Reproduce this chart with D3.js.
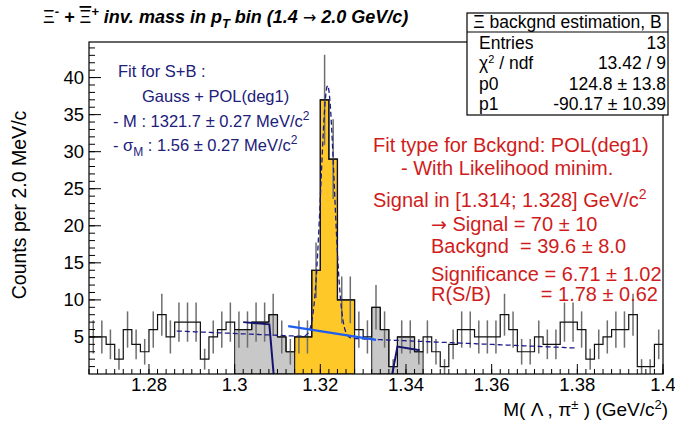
<!DOCTYPE html>
<html><head><meta charset="utf-8">
<script src="https://cdn.jsdelivr.net/npm/d3@7"></script>
<style>
html,body{margin:0;padding:0;background:#fff;}
svg{display:block;font-family:"Liberation Sans",Arial,Helvetica,sans-serif;}
</style></head>
<body><svg id="c" width="675" height="428"></svg>
<script>
// ---- data ----
const histRange = [1.266, 1.400];
const binWidth = 0.002;
const counts = [5,5,4,2,6,4,3,6,8,5,7,7,7,2,5,6,7,6,6,7,7,8,5,3,5,5,14,37,29,10,10,
                6,5,9,6,1,5,5,3,
                5,3,1,4,6,6,5,5,5,8,6,3,3,5,4,4,7,7,6,2,4,5,6,6,8,1,1,4];
const sidebandLeft = [1.300, 1.314];
const sidebandRight = [1.332, 1.344];
const signalRange = [1.314, 1.328];
const fitParams = {mean: 1.3217, sigma: 0.00156, amp: 34.0, bkgAt: [[1.2865, 5.8], [1.380, 3.5]]};
const fitRange = [1.2865, 1.380];
const bkgP = [124.8, -90.17];
const bkgLineRange = [1.3125, 1.3330];
const navyLeft = [[1.3020, 7.0], [1.3081, 6.7], [1.3091, 0]];
const navyRight = [[1.3368, 0], [1.3380, 3.7], [1.3432, 3.2]];
const xTicks = [1.28, 1.30, 1.32, 1.34, 1.36, 1.38, 1.40];
const xTickLabels = ["1.28", "1.3", "1.32", "1.34", "1.36", "1.38", "1.4"];
const yTicks = [5, 10, 15, 20, 25, 30, 35, 40];

// ---- layout ----
const svg = d3.select("#c");
const L = 89, R = 663, T = 42, B = 374;
const x = d3.scaleLinear().domain(histRange).range([L, R]);
const y = d3.scaleLinear().domain([0, 44.8]).range([B, T]);

const bins = counts.map((c, i) => {
  const lo = +(histRange[0] + i * binWidth).toFixed(4);
  return {lo, hi: +(lo + binWidth).toFixed(4), c};
});

svg.append("clipPath").attr("id", "clp").append("rect")
  .attr("x", L).attr("y", T).attr("width", R - L).attr("height", B - T);
const g = svg.append("g").attr("clip-path", "url(#clp)");

function stepArea(sel) {
  let d = "";
  sel.forEach((b, i) => {
    if (i === 0) d += `M${x(b.lo)},${y(0)}L${x(b.lo)},${y(b.c)}`;
    else d += `L${x(b.lo)},${y(b.c)}`;
    d += `L${x(b.hi)},${y(b.c)}`;
  });
  const last = sel[sel.length - 1];
  d += `L${x(last.hi)},${y(0)}Z`;
  return d;
}
const inR = (b, r) => b.lo >= r[0] - 1e-6 && b.hi <= r[1] + 1e-6;

[sidebandLeft, sidebandRight].forEach(r => {
  g.append("path").attr("d", stepArea(bins.filter(b => inR(b, r))))
    .attr("fill", "#c8c8c8").attr("stroke", "#222").attr("stroke-width", 1);
});
g.append("path").attr("d", stepArea(bins.filter(b => inR(b, signalRange))))
  .attr("fill", "#ffc829").attr("stroke", "#222").attr("stroke-width", 1.2);

g.selectAll("line.err").data(bins).enter().append("line")
  .attr("x1", b => x((b.lo + b.hi) / 2)).attr("x2", b => x((b.lo + b.hi) / 2))
  .attr("y1", b => y(b.c + Math.sqrt(b.c))).attr("y2", b => y(Math.max(0, b.c - Math.sqrt(b.c))))
  .attr("stroke", "#6e6e6e").attr("stroke-width", 1.5);

let dOut = "";
bins.forEach((b, i) => {
  dOut += (i === 0 ? "M" : "L") + `${x(b.lo)},${y(b.c)}L${x(b.hi)},${y(b.c)}`;
});
g.append("path").attr("d", dOut).attr("fill", "none").attr("stroke", "#111").attr("stroke-width", 1.2);

const [p1x, p1y] = fitParams.bkgAt[0], [p2x, p2y] = fitParams.bkgAt[1];
const slope = (p2y - p1y) / (p2x - p1x);
const fitPts = d3.range(fitRange[0], fitRange[1] + 1e-9, 0.0002).map(v => [v,
  p1y + slope * (v - p1x) + fitParams.amp * Math.exp(-0.5 * ((v - fitParams.mean) / fitParams.sigma) ** 2)]);
g.append("path").attr("d", d3.line().x(d => x(d[0])).y(d => y(d[1]))(fitPts))
  .attr("fill", "none").attr("stroke", "#1c1c88").attr("stroke-width", 1.3).attr("stroke-dasharray", "5,3");

g.append("path").attr("d", d3.line().x(d => x(d)).y(d => y(bkgP[0] + bkgP[1] * d))(bkgLineRange))
  .attr("fill", "none").attr("stroke", "#1f5cf0").attr("stroke-width", 2.2);

[navyLeft, navyRight].forEach(pts => {
  g.append("path").attr("d", d3.line().x(d => x(d[0])).y(d => y(d[1]))(pts))
    .attr("fill", "none").attr("stroke", "#14146e").attr("stroke-width", 2);
});

svg.append("rect").attr("x", L).attr("y", T).attr("width", R - L).attr("height", B - T)
  .attr("fill", "none").attr("stroke", "#000").attr("stroke-width", 1.2);

const xMinor = d3.range(1.266, 1.4001, 0.002);
svg.append("g").selectAll("line").data(xMinor).enter().append("line")
  .attr("x1", d => x(d)).attr("x2", d => x(d)).attr("y1", B).attr("y2", B - 5)
  .attr("stroke", "#000");
svg.append("g").selectAll("line").data(xTicks).enter().append("line")
  .attr("x1", d => x(d)).attr("x2", d => x(d)).attr("y1", B).attr("y2", B - 10)
  .attr("stroke", "#000");
svg.append("g").selectAll("text").data(xTicks).enter().append("text")
  .attr("x", d => x(d)).attr("y", 391).attr("text-anchor", "middle")
  .attr("font-size", 18.5).text((d, i) => xTickLabels[i]);

const yMinor = d3.range(1, 45, 1);
svg.append("g").selectAll("line").data(yMinor).enter().append("line")
  .attr("x1", L).attr("x2", L + 6).attr("y1", d => y(d)).attr("y2", d => y(d)).attr("stroke", "#000");
svg.append("g").selectAll("line").data(yTicks).enter().append("line")
  .attr("x1", L).attr("x2", L + 12).attr("y1", d => y(d)).attr("y2", d => y(d)).attr("stroke", "#000");
svg.append("g").selectAll("text").data(yTicks).enter().append("text")
  .attr("x", L - 5).attr("y", d => y(d) + 6.5).attr("text-anchor", "end")
  .attr("font-size", 18.5).text(d => d);

svg.append("text").attr("transform", "translate(26,205) rotate(-90)").attr("text-anchor", "middle")
  .attr("font-size", 19.5).text("Counts per 2.0 MeV/c");
const xt = svg.append("text").attr("x", 668).attr("y", 416).attr("text-anchor", "end").attr("font-size", 19);
xt.append("tspan").text("M( Λ , π");
xt.append("tspan").attr("dy", -7).attr("font-size", 13).text("±");
xt.append("tspan").attr("dy", 7).text(" ) (GeV/c");
xt.append("tspan").attr("dy", -7).attr("font-size", 13).text("2");
xt.append("tspan").attr("dy", 7).text(")");

const tt = svg.append("text").attr("x", 43).attr("y", 23).attr("font-size", 18)
  .attr("font-weight", "bold").attr("font-style", "italic");
tt.append("tspan").attr("font-weight", "normal").attr("font-style", "normal").text("Ξ");
tt.append("tspan").attr("dy", -7).attr("font-size", 13).text("-");
tt.append("tspan").attr("dy", 7).text(" + ");
tt.append("tspan").attr("font-weight", "normal").attr("font-style", "normal").attr("text-decoration", "overline").text("Ξ");
tt.append("tspan").attr("dy", -7).attr("font-size", 13).text("+");
tt.append("tspan").attr("dy", 7).text(" inv. mass in p");
tt.append("tspan").attr("dy", 5).attr("font-size", 13).text("T");
tt.append("tspan").attr("dy", -5).text(" bin (1.4 ");
tt.append("tspan").attr("font-weight", "normal").attr("font-style", "normal").attr("font-family", "DejaVu Sans").attr("font-size", 16).text("→");
tt.append("tspan").text(" 2.0 GeV/c)");

const sb = svg.append("g");
sb.append("rect").attr("x", 467).attr("y", 13).attr("width", 201).attr("height", 102)
  .attr("fill", "#fff").attr("stroke", "#000").attr("stroke-width", 1.2);
sb.append("line").attr("x1", 467).attr("x2", 668).attr("y1", 32).attr("y2", 32).attr("stroke", "#000").attr("stroke-width", 1.2);
sb.append("text").attr("x", 567.5).attr("y", 28).attr("text-anchor", "middle").attr("font-size", 17.5).text("Ξ backgnd estimation, B");
const statRows = [["Entries", "13"], ["χ2 / ndf", "13.42 / 9"], ["p0", "124.8 ± 13.8"], ["p1", "-90.17 ± 10.39"]];
statRows.forEach((r, i) => {
  const yy = 49 + i * 20.3;
  const t = sb.append("text").attr("x", 479).attr("y", yy).attr("font-size", 17.5);
  if (i === 1) {
    t.append("tspan").text("χ");
    t.append("tspan").attr("dy", -6).attr("font-size", 11).text("2");
    t.append("tspan").attr("dy", 6).text(" / ndf");
  } else t.text(r[0]);
  sb.append("text").attr("x", 666).attr("y", yy).attr("text-anchor", "end").attr("font-size", 17.5).text(r[1]);
});

const blue = "#20207a";
const bt = svg.append("g").attr("fill", blue).attr("font-size", 16.5);
bt.append("text").attr("x", 118).attr("y", 77).text("Fit for S+B :");
bt.append("text").attr("x", 142).attr("y", 102).text("Gauss + POL(deg1)");
const m1 = bt.append("text").attr("x", 113).attr("y", 127);
m1.append("tspan").text("- M : 1321.7 ± 0.27 MeV/c");
m1.append("tspan").attr("dy", -7).attr("font-size", 12).text("2");
const m2 = bt.append("text").attr("x", 113).attr("y", 151);
m2.append("tspan").text("- σ");
m2.append("tspan").attr("dy", 5).attr("font-size", 12).text("M");
m2.append("tspan").attr("dy", -5).text(" : 1.56 ± 0.27 MeV/c");
m2.append("tspan").attr("dy", -7).attr("font-size", 12).text("2");

const red = "#d01c1c";
const rt = svg.append("g").attr("fill", red).attr("font-size", 20);
rt.append("text").attr("x", 373).attr("y", 152).text("Fit type for Bckgnd: POL(deg1)");
rt.append("text").attr("x", 401).attr("y", 175).text("- With Likelihood minim.");
const s1 = rt.append("text").attr("x", 373).attr("y", 207);
s1.append("tspan").text("Signal in [1.314; 1.328] GeV/c");
s1.append("tspan").attr("dy", -8).attr("font-size", 14).text("2");
const s2 = rt.append("text").attr("x", 431).attr("y", 231);
s2.append("tspan").attr("font-family", "DejaVu Sans").attr("font-size", 19).text("→");
s2.append("tspan").text(" Signal = 70 ± 10");
rt.append("text").attr("x", 431).attr("y", 253).attr("xml:space", "preserve").text("Backgnd  = 39.6 ± 8.0");
rt.append("text").attr("x", 431).attr("y", 281).text("Significance = 6.71 ± 1.02");
rt.append("text").attr("x", 431).attr("y", 301).text("R(S/B)");
rt.append("text").attr("x", 658).attr("y", 301).attr("text-anchor", "end").text("= 1.78 ± 0.62");
</script></body></html>
